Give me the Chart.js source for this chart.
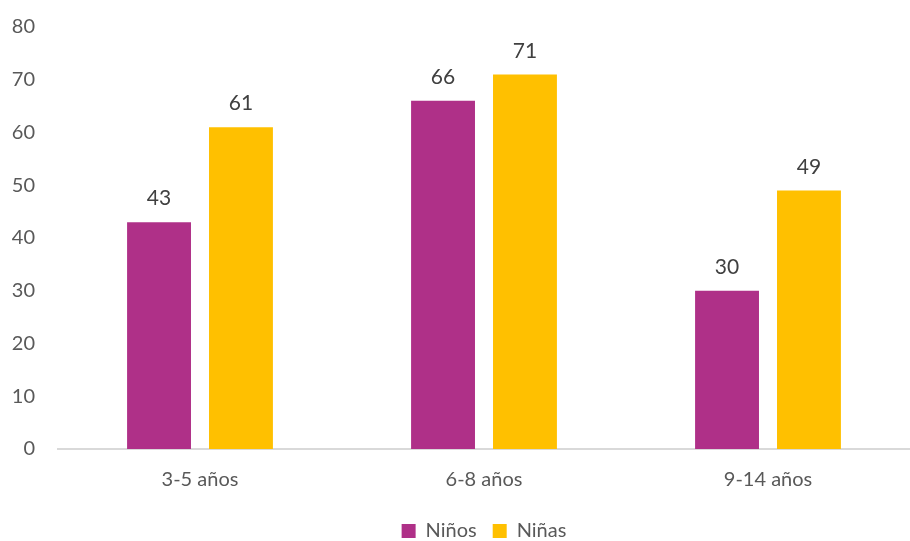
<!DOCTYPE html>
<html>
<head>
<meta charset="utf-8">
<script src="https://cdn.jsdelivr.net/npm/chart.js@4.4.0/dist/chart.umd.min.js"></script>
<style>
  html, body { margin: 0; padding: 0; background: #fff; }
  #wrap { width: 910px; height: 541px; }
</style>
</head>
<body>
<div id="wrap"><canvas id="myChart"></canvas></div>
<script>
const categories = ['3-5 años', '6-8 años', '9-14 años'];
const ninos = [43, 66, 30];
const ninas = [61, 71, 49];
const yTicks = [0, 10, 20, 30, 40, 50, 60, 70, 80];

const FONT = 'Lato, "Open Sans", sans-serif';
const GREY = '#595959';

// draw the value above each bar
const barLabels = {
    id: 'barLabels',
    afterDatasetsDraw(chart) {
        const ctx = chart.ctx;
        ctx.save();
        ctx.font = '21px ' + FONT;
        ctx.fillStyle = '#404040';
        ctx.textAlign = 'center';
        ctx.textBaseline = 'bottom';
        chart.data.datasets.forEach((ds, i) => {
            chart.getDatasetMeta(i).data.forEach((bar, j) => {
                ctx.fillText(ds.data[j], bar.x, bar.y - 13);
            });
        });
        ctx.restore();
    }
};

new Chart(document.getElementById('myChart'), {
    type: 'bar',
    data: {
        labels: categories,
        datasets: [
            { label: 'Niños', data: ninos, backgroundColor: '#AF3088' },
            { label: 'Niñas', data: ninas, backgroundColor: '#FFC000' }
        ]
    },
    options: {
        responsive: true,
        maintainAspectRatio: false,
        animation: false,
        categoryPercentage: 0.577,
        barPercentage: 0.78,
        layout: { padding: { top: 15, right: 0, left: 0, bottom: -10 } },
        scales: {
            x: {
                grid: { display: false },
                border: { display: true, color: '#D9D9D9', width: 2 },
                ticks: { color: GREY, font: { family: FONT, size: 20 }, padding: 11 },
                afterFit(scale) { scale.height += 2; }
            },
            y: {
                min: 0,
                max: 80,
                afterBuildTicks(scale) { scale.ticks = yTicks.map(v => ({ value: v })); },
                afterFit(scale) { scale.width = 58; },
                grid: { display: false },
                border: { display: false },
                ticks: { color: GREY, font: { family: FONT, size: 20 }, padding: 15 }
            }
        },
        plugins: {
            tooltip: { enabled: false },
            legend: {
                position: 'bottom',
                fullSize: false,
                labels: {
                    color: GREY,
                    font: { family: FONT, size: 20 },
                    boxWidth: 14,
                    boxHeight: 14,
                    padding: 16
                }
            }
        }
    },
    plugins: [barLabels]
});
</script>
</body>
</html>
